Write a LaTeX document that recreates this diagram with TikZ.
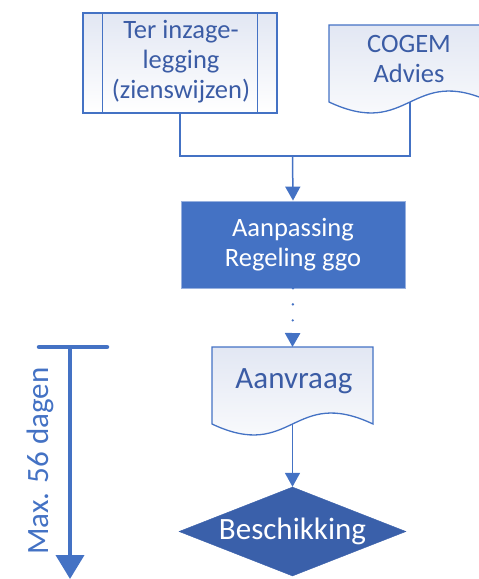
\documentclass[tikz,border=0pt]{standalone}
\usepackage{fontspec}
\setmainfont{Carlito}
\usetikzlibrary{shapes.geometric,arrows.meta,positioning}
\definecolor{ggoblue}{HTML}{4472C4}
\definecolor{ggodark}{HTML}{3A60AA}
\definecolor{ggotext}{HTML}{3B5CA5}
\definecolor{ggopale}{HTML}{E2E7F3}

\begin{document}
\begin{tikzpicture}[x=1pt,y=-1pt,
    flow/.style={draw=ggoblue,line width=1.5pt,-{Triangle[width=15pt,length=14pt]}},
    link/.style={draw=ggoblue,line width=1.5pt},
    txt/.style={align=center,text=ggotext,font=\fontsize{26.5}{30}\selectfont},
    bigtxt/.style={align=center,font=\fontsize{31}{36}\selectfont}]
    % Define parameters
    \def\wave{38}
    \def\shapeline{1.3pt}
\useasboundingbox (0,0) rectangle (479,579);
\clip (0,0) rectangle (479,579);

% Ter inzage-legging (predefined process)
\node[draw=ggoblue,line width=\shapeline,top color=ggopale,bottom color=white,
      minimum width=194pt,minimum height=100pt,inner sep=0pt] (inzage) at (180,63) {};
\draw[ggoblue,line width=\shapeline] ([xshift=20pt]inzage.north west) -- ([xshift=20pt]inzage.south west);
\draw[ggoblue,line width=\shapeline] ([xshift=-20pt]inzage.north east) -- ([xshift=-20pt]inzage.south east);
\node[txt] (inzagetext) at (181,62) {Ter inzage-\\legging\\(zienswijzen)};

% COGEM Advies (document)
\shade[top color=ggopale,bottom color=white] (329,25) -- (491,25) -- (491,102)
    .. controls (410,102-\wave) and (410,102+\wave) .. (329,102) -- cycle;
\draw[ggoblue,line width=\shapeline] (329,25) -- (491,25) -- (491,102)
    .. controls (410,102-\wave) and (410,102+\wave) .. (329,102) -- cycle;
\node[txt] (cogem) at (409,59) {COGEM\\Advies};
\coordinate (cogembottom) at (410,102);

% Aanpassing Regeling ggo
\node[draw=ggoblue!55!white,line width=0.8pt,fill=ggoblue,text=white,align=center,
      font=\fontsize{26.5}{30}\selectfont,minimum width=224pt,minimum height=87pt] (aanpassing) at (293,244.5) {Aanpassing\\Regeling ggo};

% Aanvraag (document)
\shade[top color=ggopale,bottom color=white] (212,347) -- (373,347) -- (373,424)
    .. controls (292.5,424-\wave) and (292.5,424+\wave) .. (212,424) -- cycle;
\draw[ggoblue,line width=\shapeline] (212,347) -- (373,347) -- (373,424)
    .. controls (292.5,424-\wave) and (292.5,424+\wave) .. (212,424) -- cycle;
\node[bigtxt,text=ggotext] (aanvraag) at (294,381) {Aanvraag};
\coordinate (aanvraagtop) at (292.5,347);
\coordinate (aanvraagbottom) at (292.5,424);

% Beschikking
\node[diamond,aspect=2.55,fill=ggodark,draw=ggodark,text=white,bigtxt,inner sep=0pt,
      minimum width=227pt,minimum height=89pt] (beschikking) at (292.5,531.5) {Beschikking};

% Connectors
\coordinate (join) at (292.5,156);
\draw[link] (inzage.south) |- (join);
\draw[link] (cogembottom) |- (join);
\draw[flow] (join) -- (aanpassing.north);
\draw[flow,line width=2.6pt,dash pattern=on 0pt off 16pt,line cap=round] (aanpassing.south) -- (aanvraagtop);
\draw[flow] (aanvraagbottom) -- (beschikking.north);

% Timeline
\coordinate (barleft) at (39,347);
\coordinate (barright) at (107,347);
\coordinate (linestart) at (70,347);
\coordinate (lineend) at (70,579);
\draw[ggoblue,line width=4.5pt,line cap=round] (barleft) -- (barright);
\draw[ggoblue,line width=4pt,-{Triangle[width=28pt,length=24pt]}] (linestart) -- (lineend);
\node[bigtxt,text=ggoblue,rotate=90] (maxdagen) at (40,461) {Max. 56 dagen};

\end{tikzpicture}
\end{document}
